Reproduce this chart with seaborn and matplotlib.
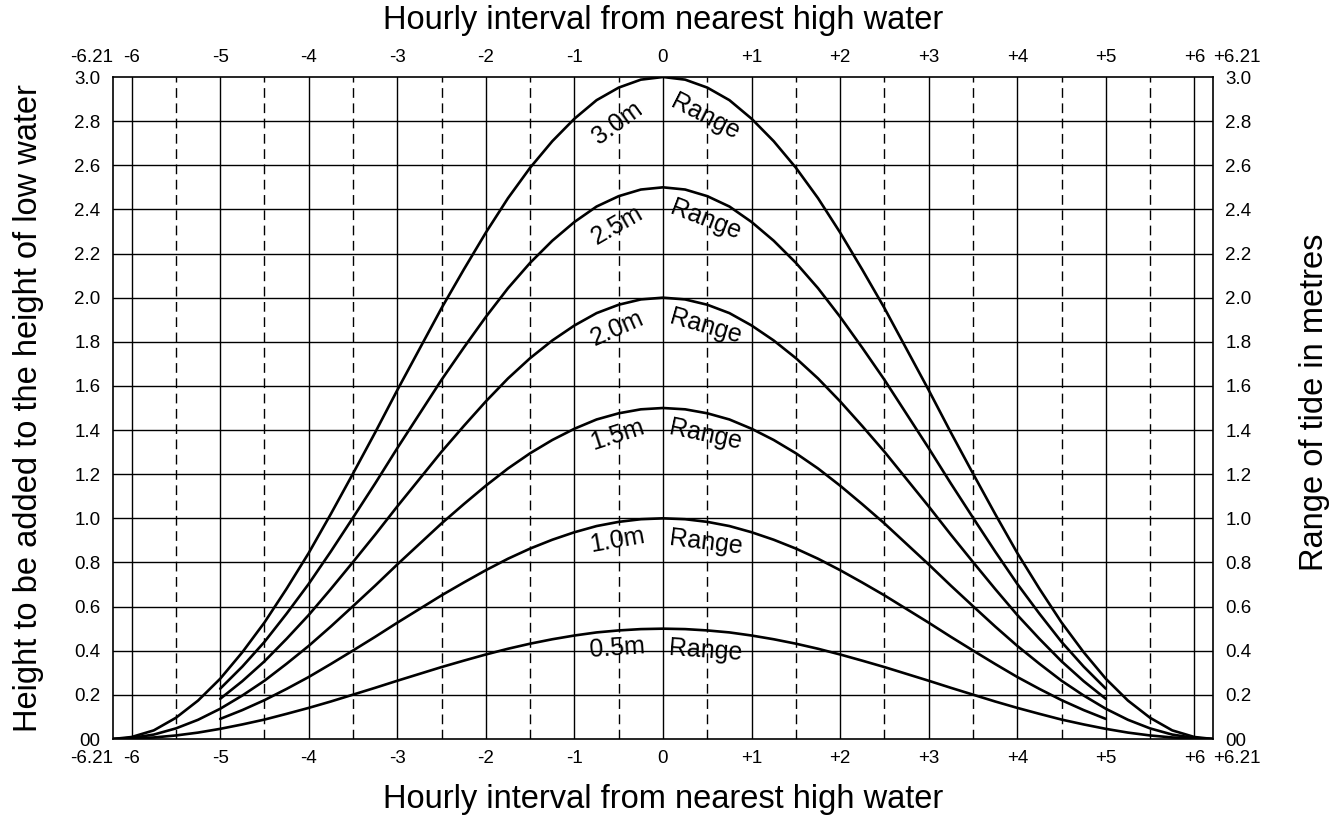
import matplotlib
matplotlib.use("Agg")
import matplotlib.pyplot as plt
import seaborn as sns
import pandas as pd

# horas em relacao a preama (leitura do grafico a cada 15 min)
horas_longo = [-6.21, -6.0, -5.75, -5.5, -5.25, -5.0, -4.75, -4.5, -4.25, -4.0,
               -3.75, -3.5, -3.25, -3.0, -2.75, -2.5, -2.25, -2.0, -1.75, -1.5,
               -1.25, -1.0, -0.75, -0.5, -0.25, 0.0, 0.25, 0.5, 0.75, 1.0,
               1.25, 1.5, 1.75, 2.0, 2.25, 2.5, 2.75, 3.0, 3.25, 3.5,
               3.75, 4.0, 4.25, 4.5, 4.75, 5.0, 5.25, 5.5, 5.75, 6.0, 6.21]
horas_curto = [-5.0, -4.75, -4.5, -4.25, -4.0, -3.75, -3.5, -3.25, -3.0, -2.75,
               -2.5, -2.25, -2.0, -1.75, -1.5, -1.25, -1.0, -0.75, -0.5, -0.25,
               0.0, 0.25, 0.5, 0.75, 1.0, 1.25, 1.5, 1.75, 2.0, 2.25,
               2.5, 2.75, 3.0, 3.25, 3.5, 3.75, 4.0, 4.25, 4.5, 4.75, 5.0]

altura_30 = [0.000, 0.009, 0.039, 0.096, 0.174, 0.273, 0.393, 0.528, 0.681, 0.843,
             1.020, 1.203, 1.389, 1.581, 1.767, 1.953, 2.127, 2.295, 2.451, 2.589,
             2.709, 2.811, 2.895, 2.952, 2.988, 3.000, 2.988, 2.952, 2.895, 2.811,
             2.709, 2.589, 2.451, 2.295, 2.127, 1.953, 1.767, 1.581, 1.389, 1.203,
             1.020, 0.843, 0.681, 0.528, 0.393, 0.273, 0.174, 0.096, 0.039, 0.009, 0.000]
altura_25 = [0.228, 0.328, 0.440, 0.568, 0.703, 0.850, 1.003, 1.158, 1.318, 1.473,
             1.628, 1.773, 1.913, 2.043, 2.158, 2.258, 2.343, 2.413, 2.460, 2.490,
             2.500, 2.490, 2.460, 2.413, 2.343, 2.258, 2.158, 2.043, 1.913, 1.773,
             1.628, 1.473, 1.318, 1.158, 1.003, 0.850, 0.703, 0.568, 0.440, 0.328, 0.228]
altura_20 = [0.182, 0.262, 0.352, 0.454, 0.562, 0.680, 0.802, 0.926, 1.054, 1.178,
             1.302, 1.418, 1.530, 1.634, 1.726, 1.806, 1.874, 1.930, 1.968, 1.992,
             2.000, 1.992, 1.968, 1.930, 1.874, 1.806, 1.726, 1.634, 1.530, 1.418,
             1.302, 1.178, 1.054, 0.926, 0.802, 0.680, 0.562, 0.454, 0.352, 0.262, 0.182]
altura_15 = [0.000, 0.005, 0.020, 0.048, 0.087, 0.137, 0.197, 0.264, 0.341, 0.422,
             0.510, 0.602, 0.695, 0.791, 0.884, 0.977, 1.064, 1.148, 1.226, 1.295,
             1.355, 1.406, 1.448, 1.476, 1.494, 1.500, 1.494, 1.476, 1.448, 1.406,
             1.355, 1.295, 1.226, 1.148, 1.064, 0.977, 0.884, 0.791, 0.695, 0.602,
             0.510, 0.422, 0.341, 0.264, 0.197, 0.137, 0.087, 0.048, 0.020, 0.005, 0.000]
altura_10 = [0.091, 0.131, 0.176, 0.227, 0.281, 0.340, 0.401, 0.463, 0.527, 0.589,
             0.651, 0.709, 0.765, 0.817, 0.863, 0.903, 0.937, 0.965, 0.984, 0.996,
             1.000, 0.996, 0.984, 0.965, 0.937, 0.903, 0.863, 0.817, 0.765, 0.709,
             0.651, 0.589, 0.527, 0.463, 0.401, 0.340, 0.281, 0.227, 0.176, 0.131, 0.091]
altura_05 = [0.000, 0.002, 0.007, 0.016, 0.029, 0.046, 0.066, 0.088, 0.114, 0.141,
             0.170, 0.201, 0.232, 0.264, 0.295, 0.326, 0.355, 0.383, 0.409, 0.432,
             0.452, 0.469, 0.483, 0.492, 0.498, 0.500, 0.498, 0.492, 0.483, 0.469,
             0.452, 0.432, 0.409, 0.383, 0.355, 0.326, 0.295, 0.264, 0.232, 0.201,
             0.170, 0.141, 0.114, 0.088, 0.066, 0.046, 0.029, 0.016, 0.007, 0.002, 0.000]

amplitudes = ["3.0m", "2.5m", "2.0m", "1.5m", "1.0m", "0.5m"]

# ticks
ticks_x = [-6.21, -6, -5, -4, -3, -2, -1, 0, 1, 2, 3, 4, 5, 6, 6.21]
rotulos_x = ["-6.21", "-6", "-5", "-4", "-3", "-2", "-1", "0",
             "+1", "+2", "+3", "+4", "+5", "+6", "+6.21"]
meias_horas = [-5.5, -4.5, -3.5, -2.5, -1.5, -0.5, 0.5, 1.5, 2.5, 3.5, 4.5, 5.5]
ticks_y = [0.0, 0.2, 0.4, 0.6, 0.8, 1.0, 1.2, 1.4, 1.6, 1.8, 2.0,
           2.2, 2.4, 2.6, 2.8, 3.0]
rotulos_y = ["00", "0.2", "0.4", "0.6", "0.8", "1.0", "1.2", "1.4", "1.6",
             "1.8", "2.0", "2.2", "2.4", "2.6", "2.8", "3.0"]

# posicao dos rotulos das curvas (hora, altura, rotacao)
pos_amp = [(-0.52, 2.79, 36), (-0.52, 2.33, 30), (-0.52, 1.86, 24),
           (-0.52, 1.38, 18), (-0.52, 0.90, 10), (-0.52, 0.41, 4)]
pos_range = [(0.48, 2.82, -27), (0.48, 2.35, -21), (0.48, 1.87, -16),
             (0.48, 1.38, -12), (0.48, 0.89, -7), (0.48, 0.40, -4)]


def montar_tabela():
    series = [
        (horas_longo, altura_30, "3.0"),
        (horas_curto, altura_25, "2.5"),
        (horas_curto, altura_20, "2.0"),
        (horas_longo, altura_15, "1.5"),
        (horas_curto, altura_10, "1.0"),
        (horas_longo, altura_05, "0.5"),
    ]
    partes = []
    for h, v, nome in series:
        partes.append(pd.DataFrame({"hora": h, "altura": v, "amplitude": nome}))
    return pd.concat(partes, ignore_index=True)


def configurar_estilo():
    sns.set_theme(style="white")
    plt.rcParams['font.family'] = ['Liberation Sans', 'DejaVu Sans']
    for chave in ("text.color", "axes.labelcolor", "xtick.color", "ytick.color"):
        plt.rcParams[chave] = "black"


def gerar_grafico(df):
    fig = plt.figure(figsize=(13.42, 8.19), dpi=100)
    ax = fig.add_axes([113 / 1342, 1 - 739 / 819, 1100 / 1342, 662 / 819])

    # grade
    for h in ticks_x[1:-1]:
        ax.axvline(h, color="black", lw=1.0, zorder=1)
    for h in meias_horas:
        ax.axvline(h, color="black", lw=1.0, ls=(0, (7, 4)), zorder=1)
    for y in ticks_y[1:-1]:
        ax.axhline(y, color="black", lw=1.0, zorder=1)

    sns.lineplot(data=df, x="hora", y="altura", hue="amplitude",
                 palette=["black"] * 6, legend=False, estimator=None,
                 lw=1.9, ax=ax, zorder=3)
    for linha in ax.get_lines():
        linha.set_solid_joinstyle("round")

    for i, amp in enumerate(amplitudes):
        x, y, r = pos_amp[i]
        ax.text(x, y, amp, fontsize=18, rotation=r, rotation_mode="anchor",
                ha="center", va="center", zorder=4)
        x, y, r = pos_range[i]
        ax.text(x, y, "Range", fontsize=18, rotation=r, rotation_mode="anchor",
                ha="center", va="center", zorder=4)

    ax.set_xlim(-6.21, 6.21)
    ax.set_ylim(0, 3.0)
    ax.set_xticks(ticks_x, rotulos_x, fontsize=13.5)
    ax.set_yticks(ticks_y, rotulos_y, fontsize=13.5)
    ax.tick_params(axis="x", length=0, pad=8, labeltop=True, top=False)
    ax.tick_params(axis="y", length=0, pad=9, labelright=True, right=False)
    for tk in ax.xaxis.get_major_ticks():
        for lab in (tk.label1, tk.label2):
            if lab.get_text() == "-6.21":
                lab.set_ha("right")
            elif lab.get_text() == "+6.21":
                lab.set_ha("left")

    ax.set_xlabel("Hourly interval from nearest high water", fontsize=23.5, labelpad=12)
    ax.set_ylabel("Height to be added to the height of low water", fontsize=23.5, labelpad=22)
    fig.text(663 / 1342, 1 - 20 / 819, "Hourly interval from nearest high water",
             fontsize=23.5, ha="center", va="center")
    fig.text(1315 / 1342, 1 - 402 / 819, "Range of tide in metres",
             fontsize=23.5, ha="center", va="center", rotation=90)

    for s in ax.spines.values():
        s.set_color("black")
        s.set_linewidth(1.2)

    fig.savefig("out.png", dpi=100)
    plt.close(fig)


if __name__ == "__main__":
    configurar_estilo()
    dados = montar_tabela()
    gerar_grafico(dados)
